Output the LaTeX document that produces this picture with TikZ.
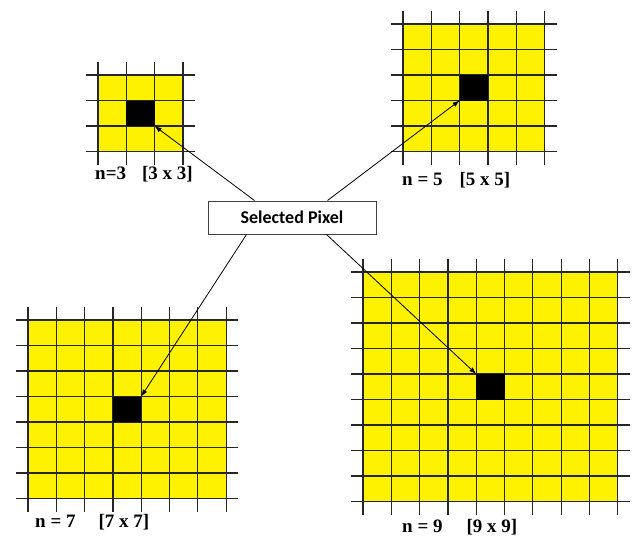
\documentclass[tikz,border=0pt]{standalone}
\usepackage{fontspec}
\setmainfont{Liberation Serif}
\newfontfamily\boxfont{Carlito}
\usetikzlibrary{arrows.meta}
\begin{document}
\begin{tikzpicture}[
x=1pt,y=-1pt,
gridline/.style={draw=black!85,line width=1.2pt},
pixel/.style={fill=black,minimum width=28.3pt,minimum height=25.5pt,inner sep=0pt,outer sep=0pt},
sizelabel/.style={anchor=west,inner sep=0pt,font=\fontsize{19}{22}\selectfont\bfseries},
selbox/.style={draw=black!75,line width=1pt,minimum width=168pt,minimum height=33pt,font=\boxfont\fontsize{18}{20}\selectfont\bfseries},
pointer/.style={draw=black,line width=0.8pt,-{Latex[length=7pt,width=5pt]}}
]
\useasboundingbox (0,0) rectangle (632,538);
% the four windows, black cell in the middle
\foreach \n/\gx/\gy in {3/98/75, 5/403/24, 7/28/320, 9/363/272}{
    \fill[yellow] (\gx,\gy) rectangle ++(\n*28.3,\n*25.5);
    \foreach \i in {0,...,\n}{
        \draw[gridline] (\gx+\i*28.3,\gy-13) -- ++(0,\n*25.5+26);
        \draw[gridline] (\gx-12,\gy+\i*25.5) -- ++(\n*28.3+24,0);
    }
    \node[pixel] (sel\n) at (\gx+\n*14.15,\gy+\n*12.75) {};
}
\node[sizelabel] (lab3) at (95,174) {n=3\hspace{16pt}[3 x 3]};
\node[sizelabel] (lab5) at (402,180) {n = 5\hspace{17pt}[5 x 5]};
\node[sizelabel] (lab7) at (35,522) {n = 7\hspace{23pt}[7 x 7]};
\node[sizelabel] (lab9) at (402,527) {n = 9\hspace{24pt}[9 x 9]};
\node[selbox,fill=white] (box) at (292,217.5) {Selected Pixel};
\draw[pointer] ([xshift=47pt]box.north west) -- (sel3.south east);
\draw[pointer] ([xshift=120pt]box.north west) -- (sel5.south west);
\draw[pointer] ([xshift=39pt]box.south west) -- (sel7.north east);
\draw[pointer] ([xshift=119pt]box.south west) -- (sel9.north west);
\end{tikzpicture}
\end{document}
